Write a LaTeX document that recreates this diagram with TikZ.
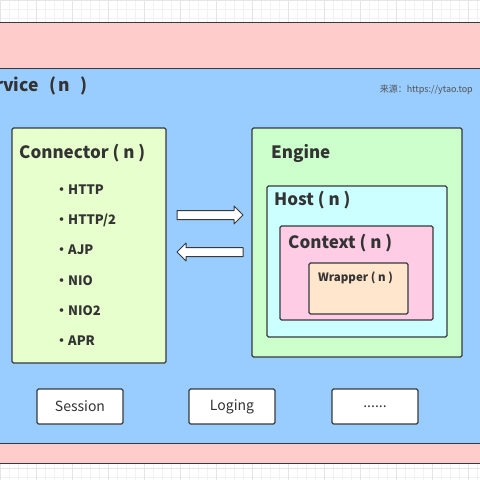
\documentclass[tikz,border=0pt]{standalone}
\usepackage{fontspec}
\setmainfont{Noto Sans CJK SC}
\definecolor{bordc}{HTML}{36393D}
\definecolor{txtc}{HTML}{333333}
\definecolor{pinkc}{HTML}{FFCCCC}
\definecolor{bluec}{HTML}{99CCFF}
\definecolor{connc}{HTML}{E6FFCC}
\definecolor{engc}{HTML}{CCFFCC}
\definecolor{hostc}{HTML}{CCFFFF}
\definecolor{ctxc}{HTML}{FFCCE6}
\definecolor{wrapc}{HTML}{FFE6CC}
\tikzset{
 box/.style={draw=bordc, line width=1.1pt, rounded corners=1.5pt, inner sep=0pt},
 band/.style={draw=bordc, line width=1pt, inner sep=0pt},
 ttl/.style={font=\fontsize{17}{20}\selectfont\bfseries, text=txtc, inner sep=0pt, anchor=west},
 item/.style={font=\fontsize{13}{15}\selectfont\bfseries, text=txtc, inner sep=0pt, anchor=west},
 btn/.style={box, fill=white, minimum width=86pt, minimum height=35pt, font=\fontsize{14}{16}\selectfont, text=txtc},
 barrow/.style={draw=bordc, fill=white, line width=1pt, line join=round}
}
\begin{document}
\begin{tikzpicture}[x=1pt,y=-1pt]
\useasboundingbox (0,0) rectangle (480,480);
\clip (0,0) rectangle (480,480);
\fill[white] (0,0) rectangle (480,480);
\draw[step=9pt, color=black!5, line width=0.4pt] (0,0) grid (480,480);
\draw[step=36pt, color=black!10, line width=0.5pt] (0,0) grid (480,480);
% bands
\node[band, fill=pinkc, minimum width=500pt, minimum height=441pt] (outer) at (240,242.5) {};
\node[band, fill=bluec, minimum width=500pt, minimum height=375pt] (service) at (240,255.5) {};
\node[font=\fontsize{17.5}{21}\selectfont\bfseries, text=txtc, inner sep=0pt, anchor=east] (svct) at (87.5,86) {Service\hspace{11pt}(\hspace{2pt}n\hspace{10pt})};
\node[font=\fontsize{9}{11}\selectfont, text=txtc!85, inner sep=0pt, anchor=east] (src) at (473,90) {来源：https://ytao.top};
% connector
\node[box, fill=connc, minimum width=154pt, minimum height=235pt] (conn) at (89,245.5) {};
\node[ttl] (connt) at (19,153) {Connector ( n )};
\node[item] (i1) at (55,190) {•HTTP};
\node[item] (i2) at (55,220) {•HTTP/2};
\node[item] (i3) at (55,250) {•AJP};
\node[item] (i4) at (55,281) {•NIO};
\node[item] (i5) at (55,311) {•NIO2};
\node[item] (i6) at (55,341) {•APR};
% engine
\node[box, fill=engc, minimum width=210pt, minimum height=229pt] (eng) at (357,242.5) {};
\node[ttl] (engt) at (271,153) {Engine};
\node[box, fill=hostc, minimum width=180pt, minimum height=151pt] (host) at (357,261.5) {};
\node[ttl] (hostt) at (274,200) {Host ( n )};
\node[box, fill=ctxc, minimum width=153pt, minimum height=94pt] (ctx) at (356.5,273) {};
\node[ttl] (ctxt) at (288,243) {Context ( n )};
\node[box, fill=wrapc, minimum width=99pt, minimum height=51pt] (wrap) at (358.5,288.5) {};
\node[font=\fontsize{11.5}{13}\selectfont\bfseries, text=txtc, inner sep=0pt, anchor=west] (wrapt) at (318,278) {Wrapper ( n )};
% arrows
\coordinate (ra) at (177,215);
\coordinate (la) at (243,252);
\draw[barrow] (ra) ++(0,-4.5) -- ++(57,0) -- ++(0,-4.5) -- ++(9,9) -- ++(-9,9) -- ++(0,-4.5) -- ++(-57,0) -- cycle;
\draw[barrow] (la) ++(0,-4.5) -- ++(-57,0) -- ++(0,-4.5) -- ++(-9,9) -- ++(9,9) -- ++(0,-4.5) -- ++(57,0) -- cycle;
% bottom buttons
\node[btn] (sess) at (80,406.5) {Session};
\node[btn] (log) at (232,406.5) {Loging};
\node[btn] (more) at (375,406.5) {......};
\end{tikzpicture}
\end{document}
